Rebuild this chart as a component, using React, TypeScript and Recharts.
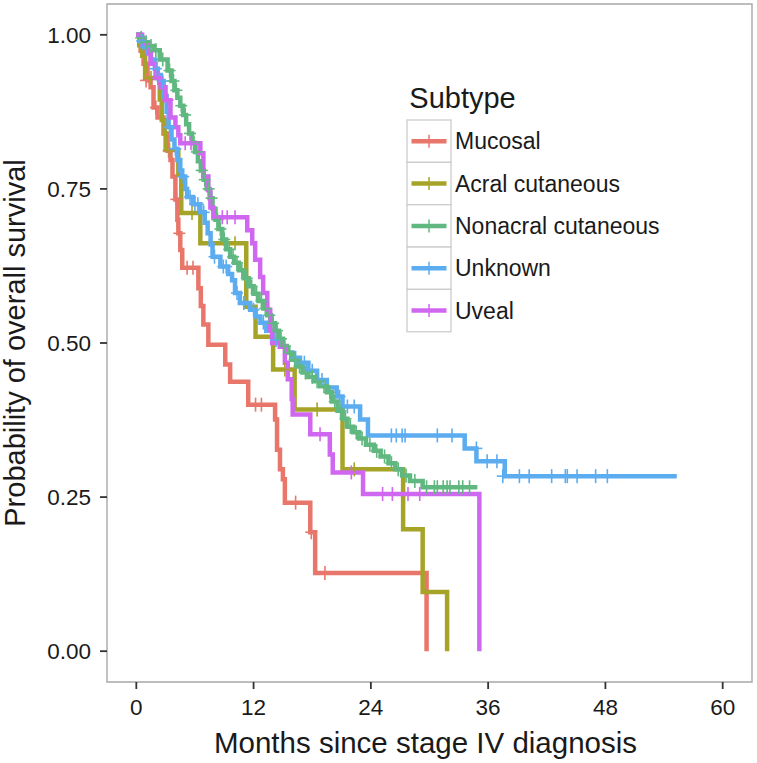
import React from 'react';
import { ComposedChart, Line, Scatter, XAxis, YAxis, ReferenceArea, Legend } from 'recharts';

const FONT = '"Liberation Sans", Arial, Helvetica, sans-serif';

const monthTicks = [0, 12, 24, 36, 48, 60];
const survivalTicks = [0, 0.25, 0.5, 0.75, 1];

const subtypes = ['Mucosal', 'Acral cutaneous', 'Nonacral cutaneous', 'Unknown', 'Uveal'];
const colors = ['#E8766A', '#A6A428', '#60B880', '#5CACF0', '#CF67F0'];

// Kaplan-Meier steps: [month, survival after drop]
const mucosalSteps = [
  [0, 1], [0.44, 0.974], [0.74, 0.953], [1.15, 0.926], [1.46, 0.915], [1.76, 0.882], [2.17, 0.866],
  [2.78, 0.84], [3.2, 0.812], [3.5, 0.797], [3.7, 0.77], [4.0, 0.733], [4.2, 0.7], [4.3, 0.678],
  [4.5, 0.651], [4.7, 0.622], [6.35, 0.589], [6.6, 0.56], [6.86, 0.53], [7.37, 0.497], [9.1, 0.465],
  [9.6, 0.437], [11.45, 0.4], [14.2, 0.376], [14.4, 0.327], [14.7, 0.295], [15.0, 0.279],
  [15.2, 0.241], [17.8, 0.193], [18.3, 0.127], [29.7, 0],
];
const acralSteps = [
  [0, 1], [0.3, 0.983], [0.6, 0.966], [0.9, 0.93], [2.4, 0.895], [2.6, 0.862], [2.9, 0.84],
  [3.0, 0.813], [4.3, 0.773], [4.6, 0.711], [6.55, 0.662], [11.25, 0.559], [12.2, 0.51],
  [14.0, 0.457], [16.2, 0.392], [21.1, 0.295], [27.3, 0.198], [29.3, 0.096], [31.8, 0],
];
const nonacralSteps = [
  [0, 1], [0.3, 0.995], [0.7, 0.988], [1.2, 0.982], [1.8, 0.975], [2.4, 0.96], [3.2, 0.942],
  [3.6, 0.925], [3.9, 0.91], [4.2, 0.898], [4.5, 0.885], [4.8, 0.87], [5.1, 0.855], [5.4, 0.84],
  [5.7, 0.825], [6.0, 0.81], [6.3, 0.795], [6.6, 0.78], [6.9, 0.765], [7.2, 0.75], [7.5, 0.735],
  [7.8, 0.718], [8.1, 0.7], [8.4, 0.685], [8.8, 0.668], [9.2, 0.652], [9.6, 0.64], [10.0, 0.63],
  [10.5, 0.618], [11.0, 0.605], [11.5, 0.592], [12.0, 0.58], [12.5, 0.568], [13.0, 0.556],
  [13.4, 0.545], [13.8, 0.532], [14.2, 0.52], [14.6, 0.507], [15.0, 0.495], [15.4, 0.484],
  [15.9, 0.473], [16.4, 0.462], [17.0, 0.452], [17.6, 0.445], [18.2, 0.438], [18.8, 0.43],
  [19.5, 0.42], [20.0, 0.405], [20.6, 0.39], [21.1, 0.377], [21.6, 0.364], [22.2, 0.355],
  [22.8, 0.345], [23.5, 0.335], [24.3, 0.325], [25.0, 0.316], [25.8, 0.305], [26.5, 0.295],
  [27.2, 0.285], [28.0, 0.276], [29.3, 0.266], [34.9, 0.266],
];
const unknownSteps = [
  [0, 1], [0.4, 0.99], [0.8, 0.98], [1.2, 0.97], [1.5, 0.96], [1.9, 0.945], [2.2, 0.935],
  [2.5, 0.925], [2.8, 0.9], [3.1, 0.875], [3.3, 0.85], [3.6, 0.83], [3.9, 0.815], [4.2, 0.797],
  [4.5, 0.78], [4.7, 0.77], [5.0, 0.75], [5.2, 0.737], [5.8, 0.725], [6.55, 0.712], [7.0, 0.695],
  [7.3, 0.678], [7.6, 0.66], [7.8, 0.64], [8.6, 0.624], [9.4, 0.612], [9.8, 0.602], [10.1, 0.581],
  [10.6, 0.565], [11.65, 0.554], [12.2, 0.543], [12.7, 0.533], [13.3, 0.52], [14.0, 0.505],
  [14.7, 0.494], [15.4, 0.484], [16.0, 0.476], [16.75, 0.468], [17.6, 0.455], [18.5, 0.44],
  [19.5, 0.428], [20.5, 0.413], [21.1, 0.397], [22.9, 0.376], [23.7, 0.35], [33.6, 0.329],
  [34.8, 0.308], [37.7, 0.284], [55.3, 0.284],
];
const uvealSteps = [
  [0, 1], [0.6, 0.985], [1.15, 0.97], [1.46, 0.953], [1.97, 0.93], [2.48, 0.915], [2.99, 0.894],
  [3.5, 0.866], [4.0, 0.85], [4.3, 0.837], [4.5, 0.824], [6.55, 0.808], [6.86, 0.77], [7.37, 0.748],
  [7.58, 0.72], [7.88, 0.704], [11.35, 0.683], [11.86, 0.662], [12.16, 0.635], [12.67, 0.607],
  [12.98, 0.581], [13.4, 0.554], [13.7, 0.521], [13.9, 0.5], [14.7, 0.494], [15.2, 0.468],
  [15.5, 0.441], [15.9, 0.409], [16.0, 0.384], [17.8, 0.352], [19.8, 0.319], [20.1, 0.29],
  [23.2, 0.255], [35.1, 0],
];

// Censoring marks: [month, survival]
const mucosalCensored = [
  [1.0, 0.926], [2.0, 0.882], [3.3, 0.812], [4.1, 0.733], [4.4, 0.678], [5.2, 0.622], [5.8, 0.622],
  [12.2, 0.4], [12.8, 0.4], [16.3, 0.241], [17.9, 0.193], [19.3, 0.127],
];
const acralCensored = [
  [1.5, 0.93], [3.4, 0.813], [5.7, 0.711], [10.1, 0.662], [15.2, 0.457], [18.5, 0.392], [22.3, 0.295],
];
const nonacralCensored = [
  [0.5, 0.995], [1.0, 0.988], [1.5, 0.982], [2.0, 0.975], [2.7, 0.96], [3.4, 0.942], [3.8, 0.925],
  [4.1, 0.91], [4.6, 0.885], [5.0, 0.87], [5.5, 0.84], [5.9, 0.825], [6.2, 0.81], [6.7, 0.78],
  [7.0, 0.765], [7.4, 0.75], [7.7, 0.735], [8.3, 0.7], [8.6, 0.685], [9.0, 0.668], [9.5, 0.652],
  [9.9, 0.64], [10.3, 0.63], [10.8, 0.618], [11.3, 0.605], [11.8, 0.592], [12.3, 0.58],
  [12.8, 0.568], [13.2, 0.556], [13.6, 0.545], [14.0, 0.532], [14.4, 0.52], [14.8, 0.507],
  [15.2, 0.495], [15.7, 0.484], [16.2, 0.473], [16.7, 0.462], [17.3, 0.452], [18.0, 0.445],
  [18.5, 0.438], [19.2, 0.43], [19.8, 0.42], [20.3, 0.405], [20.9, 0.39], [21.4, 0.377],
  [21.9, 0.364], [22.5, 0.355], [23.1, 0.345], [23.9, 0.335], [24.6, 0.325], [25.4, 0.316],
  [26.1, 0.305], [26.8, 0.295], [27.6, 0.285], [28.5, 0.276], [29.7, 0.266], [30.5, 0.266],
  [30.8, 0.266], [31.4, 0.266], [31.8, 0.266], [32.1, 0.266], [33.0, 0.266], [33.4, 0.266], [34.1, 0.266],
];
const unknownCensored = [
  [0.6, 0.99], [1.0, 0.98], [2.0, 0.945], [2.7, 0.925], [3.4, 0.85], [4.0, 0.815], [4.8, 0.77],
  [5.5, 0.737], [6.0, 0.725], [6.3, 0.725], [6.9, 0.712], [8.0, 0.64], [8.9, 0.624], [9.2, 0.624],
  [10.3, 0.581], [11.0, 0.565], [12.0, 0.554], [13.0, 0.533], [14.3, 0.505], [16.3, 0.476],
  [17.2, 0.468], [18.0, 0.455], [19.0, 0.44], [20.8, 0.413], [21.6, 0.397], [22.3, 0.397],
  [26.1, 0.35], [26.6, 0.35], [27.2, 0.35], [27.5, 0.35], [30.8, 0.35], [32.3, 0.35],
  [34.8, 0.329], [35.9, 0.308], [36.9, 0.308], [37.5, 0.284], [39.2, 0.284], [40.2, 0.284],
  [42.5, 0.284], [43.9, 0.284], [44.1, 0.284], [45.1, 0.284], [47.0, 0.284], [48.2, 0.284],
];
const uvealCensored = [
  [2.2, 0.93], [3.2, 0.894], [5.0, 0.824], [5.6, 0.824], [8.8, 0.704], [9.3, 0.704], [10.1, 0.704],
  [18.8, 0.352], [22.0, 0.29], [25.2, 0.255], [26.2, 0.255], [27.8, 0.255], [29.0, 0.255],
];

const stepSets = [mucosalSteps, acralSteps, nonacralSteps, unknownSteps, uvealSteps];
const censorSets = [mucosalCensored, acralCensored, nonacralCensored, unknownCensored, uvealCensored];
const drawOrder = [0, 1, 3, 2, 4];

const toPoints = (arr: number[][]) => arr.map(([t, s]) => ({ t, s }));

const makeCensorShape = (color: string) => (props: any) => {
  const { cx, cy } = props;
  if (cx == null || cy == null) return <g />;
  return (
    <g>
      <line x1={cx} x2={cx} y1={cy - 7} y2={cy + 7} stroke={color} strokeWidth={1.6} />
      <line x1={cx - 6} x2={cx + 6} y1={cy} y2={cy} stroke={color} strokeWidth={1.6} />
    </g>
  );
};

const LegendBox = () => {
  const keyH = 42.35;
  return (
    <svg width={340} height={270} style={{ display: 'block', overflow: 'visible' }}>
      <text x={9.3} y={28} fontSize={29} fontFamily={FONT} fill="#1a1a1a">Subtype</text>
      {subtypes.map((name, i) => {
        const top = 40 + i * keyH;
        const cy = top + keyH / 2;
        return (
          <g key={name}>
            <rect x={7} y={top} width={44} height={keyH} fill="#ffffff" stroke="#cccccc" strokeWidth={1.3} />
            <line x1={11.5} x2={46.5} y1={cy} y2={cy} stroke={colors[i]} strokeWidth={4.5} />
            <line x1={29} x2={29} y1={cy - 6.5} y2={cy + 6.5} stroke={colors[i]} strokeWidth={1.5} />
            <text x={55} y={cy + 8} fontSize={23} fontFamily={FONT} fill="#1a1a1a">{name}</text>
          </g>
        );
      })}
    </svg>
  );
};

const XTitle = (props: any) => {
  const vb = props.viewBox || { x: 107, y: 682, width: 645, height: 81 };
  return (
    <text x={vb.x + vb.width / 2 - 4} y={vb.y + 71} textAnchor="middle" fontSize={29.5} fontFamily={FONT} fill="#1a1a1a">
      Months since stage IV diagnosis
    </text>
  );
};

const YTitle = (props: any) => {
  const vb = props.viewBox || { x: 0, y: 4, width: 107, height: 678 };
  const cx = 25;
  const cy = vb.y + vb.height / 2;
  return (
    <text x={cx} y={cy} transform={`rotate(-90, ${cx}, ${cy})`} textAnchor="middle" fontSize={29} fontFamily={FONT} fill="#1a1a1a">
      Probability of overall survival
    </text>
  );
};

export default function App() {
  return (
    <div style={{ position: 'absolute', left: 0, top: 0, width: 757, height: 763, background: '#ffffff' }}>
      <ComposedChart width={757} height={763} margin={{ top: 4, right: 5, bottom: 0, left: 0 }}>
        <XAxis
          dataKey="t"
          type="number"
          domain={[-3, 63]}
          ticks={monthTicks}
          allowDataOverflow
          axisLine={false}
          tickSize={7}
          tickMargin={10}
          height={81}
          tickLine={{ stroke: '#333333', strokeWidth: 1.8 }}
          tick={{ fill: '#1a1a1a', fontSize: 22.5, fontFamily: FONT }}
          label={<XTitle />}
        />
        <YAxis
          dataKey="s"
          type="number"
          domain={[-0.05, 1.05]}
          ticks={survivalTicks}
          allowDataOverflow
          axisLine={false}
          width={107}
          tickSize={7}
          tickMargin={9}
          tickFormatter={(v: number) => v.toFixed(2)}
          tickLine={{ stroke: '#333333', strokeWidth: 1.8 }}
          tick={{ fill: '#1a1a1a', fontSize: 22.5, fontFamily: FONT }}
          label={<YTitle />}
        />
        <ReferenceArea x1={-3} x2={63} y1={-0.05} y2={1.05} fill="none" stroke="#a8a8a8" strokeWidth={1.4} ifOverflow="visible" />
        {drawOrder.map((i) => (
          <Line
            key={'line-' + subtypes[i]}
            data={toPoints(stepSets[i])}
            dataKey="s"
            name={subtypes[i]}
            type="stepAfter"
            stroke={colors[i]}
            strokeWidth={4.5}
            dot={false}
            activeDot={false}
            isAnimationActive={false}
          />
        ))}
        {drawOrder.map((i) => (
          <Scatter
            key={'cens-' + subtypes[i]}
            data={toPoints(censorSets[i])}
            dataKey="s"
            name={subtypes[i] + ' censored'}
            fill={colors[i]}
            shape={makeCensorShape(colors[i])}
            isAnimationActive={false}
            legendType="none"
          />
        ))}
        <Legend
          layout="vertical"
          align="center"
          verticalAlign="middle"
          wrapperStyle={{ position: 'absolute', left: 400, top: 80, width: 340, height: 270 }}
          content={() => <LegendBox />}
        />
      </ComposedChart>
    </div>
  );
}
